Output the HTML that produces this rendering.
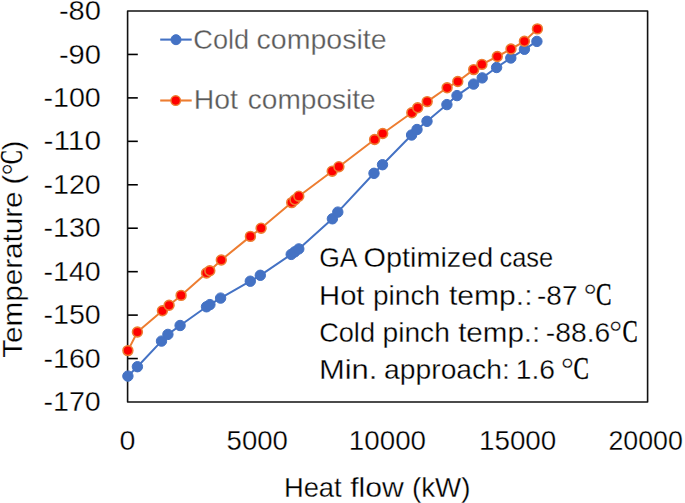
<!DOCTYPE html>
<html lang="en">
<head>
<meta charset="utf-8">
<title>Composite curves</title>
<style>
html,body{margin:0;padding:0;background:#fff;}
body{width:685px;height:503px;overflow:hidden;}
svg{display:block;}
text{font-family:"Liberation Sans",sans-serif;font-size:28px;fill:#000;stroke:#fff;stroke-width:0.3px;paint-order:fill stroke;}
.lg{fill:#595959;}
.dg{font-family:"Liberation Serif",serif;font-size:32px;}
.sf{font-family:"Liberation Serif",serif;font-size:30.5px;stroke:#000;stroke-width:0.3px;}
</style>
</head>
<body>
<svg width="685" height="503" viewBox="0 0 685 503">
<rect x="0" y="0" width="685" height="503" fill="#ffffff"/>
<text y="20.1"><tspan x="58.9" textLength="42.07" lengthAdjust="spacingAndGlyphs">-80</tspan></text>
<text y="63.54"><tspan x="58.9" textLength="42.07" lengthAdjust="spacingAndGlyphs">-90</tspan></text>
<text y="106.99"><tspan x="43.52" textLength="57.25" lengthAdjust="spacingAndGlyphs">-100</tspan></text>
<text y="150.43"><tspan x="43.47" textLength="57.53" lengthAdjust="spacingAndGlyphs">-110</tspan></text>
<text y="193.88"><tspan x="43.52" textLength="57.25" lengthAdjust="spacingAndGlyphs">-120</tspan></text>
<text y="237.32"><tspan x="43.52" textLength="57.25" lengthAdjust="spacingAndGlyphs">-130</tspan></text>
<text y="280.77"><tspan x="43.52" textLength="57.25" lengthAdjust="spacingAndGlyphs">-140</tspan></text>
<text y="324.21"><tspan x="43.52" textLength="57.25" lengthAdjust="spacingAndGlyphs">-150</tspan></text>
<text y="367.66"><tspan x="43.52" textLength="57.25" lengthAdjust="spacingAndGlyphs">-160</tspan></text>
<text y="411.1"><tspan x="43.52" textLength="57.25" lengthAdjust="spacingAndGlyphs">-170</tspan></text>
<line x1="127.6" y1="54.44" x2="137.79999999999998" y2="54.44" stroke="#000" stroke-width="1.6"/>
<line x1="127.6" y1="97.89" x2="137.79999999999998" y2="97.89" stroke="#000" stroke-width="1.6"/>
<line x1="127.6" y1="141.33" x2="137.79999999999998" y2="141.33" stroke="#000" stroke-width="1.6"/>
<line x1="127.6" y1="184.78" x2="137.79999999999998" y2="184.78" stroke="#000" stroke-width="1.6"/>
<line x1="127.6" y1="228.22" x2="137.79999999999998" y2="228.22" stroke="#000" stroke-width="1.6"/>
<line x1="127.6" y1="271.67" x2="137.79999999999998" y2="271.67" stroke="#000" stroke-width="1.6"/>
<line x1="127.6" y1="315.11" x2="137.79999999999998" y2="315.11" stroke="#000" stroke-width="1.6"/>
<line x1="127.6" y1="358.56" x2="137.79999999999998" y2="358.56" stroke="#000" stroke-width="1.6"/>
<text y="450.3"><tspan x="119.58" textLength="15.92" lengthAdjust="spacingAndGlyphs">0</tspan></text>
<text y="450.3"><tspan x="226.57" textLength="61.26" lengthAdjust="spacingAndGlyphs">5000</tspan></text>
<text y="450.3"><tspan x="348.87" textLength="77.14" lengthAdjust="spacingAndGlyphs">10000</tspan></text>
<text y="450.3"><tspan x="478.97" textLength="77.35" lengthAdjust="spacingAndGlyphs">15000</tspan></text>
<text y="450.3"><tspan x="608.47" textLength="74.41" lengthAdjust="spacingAndGlyphs">20000</tspan></text>
<rect x="127.6" y="11.0" width="520.0" height="391.0" fill="none" stroke="#111" stroke-width="1.6" stroke-linejoin="round"/>
<polyline points="127.9,376.1 137.4,366.7 161.5,341.1 167.9,334.4 180.1,325.5 206.5,306.8 209.9,304.6 220.6,298.1 250.3,281.2 260.3,275.3 291.2,254.4 294.8,251.8 298.8,248.9 332.4,218.8 337.8,212.1 374,173.3 382.5,164.7 411.6,135.0 417,129.5 427,121.3 446.9,104.6 457,95.6 473.6,84.1 482.2,77.9 496.6,67.5 510.8,58.0 524.4,49.3 536.9,41.4" fill="none" stroke="#4472C4" stroke-width="2.0" stroke-linejoin="round" stroke-linecap="round"/>
<circle cx="127.9" cy="376.1" r="5.2" fill="#4472C4" stroke="#4472C4" stroke-width="1.0"/>
<circle cx="137.4" cy="366.7" r="5.2" fill="#4472C4" stroke="#4472C4" stroke-width="1.0"/>
<circle cx="161.5" cy="341.1" r="5.2" fill="#4472C4" stroke="#4472C4" stroke-width="1.0"/>
<circle cx="167.9" cy="334.4" r="5.2" fill="#4472C4" stroke="#4472C4" stroke-width="1.0"/>
<circle cx="180.1" cy="325.5" r="5.2" fill="#4472C4" stroke="#4472C4" stroke-width="1.0"/>
<circle cx="206.5" cy="306.8" r="5.2" fill="#4472C4" stroke="#4472C4" stroke-width="1.0"/>
<circle cx="209.9" cy="304.6" r="5.2" fill="#4472C4" stroke="#4472C4" stroke-width="1.0"/>
<circle cx="220.6" cy="298.1" r="5.2" fill="#4472C4" stroke="#4472C4" stroke-width="1.0"/>
<circle cx="250.3" cy="281.2" r="5.2" fill="#4472C4" stroke="#4472C4" stroke-width="1.0"/>
<circle cx="260.3" cy="275.3" r="5.2" fill="#4472C4" stroke="#4472C4" stroke-width="1.0"/>
<circle cx="291.2" cy="254.4" r="5.2" fill="#4472C4" stroke="#4472C4" stroke-width="1.0"/>
<circle cx="294.8" cy="251.8" r="5.2" fill="#4472C4" stroke="#4472C4" stroke-width="1.0"/>
<circle cx="298.8" cy="248.9" r="5.2" fill="#4472C4" stroke="#4472C4" stroke-width="1.0"/>
<circle cx="332.4" cy="218.8" r="5.2" fill="#4472C4" stroke="#4472C4" stroke-width="1.0"/>
<circle cx="337.8" cy="212.1" r="5.2" fill="#4472C4" stroke="#4472C4" stroke-width="1.0"/>
<circle cx="374" cy="173.3" r="5.2" fill="#4472C4" stroke="#4472C4" stroke-width="1.0"/>
<circle cx="382.5" cy="164.7" r="5.2" fill="#4472C4" stroke="#4472C4" stroke-width="1.0"/>
<circle cx="411.6" cy="135.0" r="5.2" fill="#4472C4" stroke="#4472C4" stroke-width="1.0"/>
<circle cx="417" cy="129.5" r="5.2" fill="#4472C4" stroke="#4472C4" stroke-width="1.0"/>
<circle cx="427" cy="121.3" r="5.2" fill="#4472C4" stroke="#4472C4" stroke-width="1.0"/>
<circle cx="446.9" cy="104.6" r="5.2" fill="#4472C4" stroke="#4472C4" stroke-width="1.0"/>
<circle cx="457" cy="95.6" r="5.2" fill="#4472C4" stroke="#4472C4" stroke-width="1.0"/>
<circle cx="473.6" cy="84.1" r="5.2" fill="#4472C4" stroke="#4472C4" stroke-width="1.0"/>
<circle cx="482.2" cy="77.9" r="5.2" fill="#4472C4" stroke="#4472C4" stroke-width="1.0"/>
<circle cx="496.6" cy="67.5" r="5.2" fill="#4472C4" stroke="#4472C4" stroke-width="1.0"/>
<circle cx="510.8" cy="58.0" r="5.2" fill="#4472C4" stroke="#4472C4" stroke-width="1.0"/>
<circle cx="524.4" cy="49.3" r="5.2" fill="#4472C4" stroke="#4472C4" stroke-width="1.0"/>
<circle cx="536.9" cy="41.4" r="5.2" fill="#4472C4" stroke="#4472C4" stroke-width="1.0"/>
<polyline points="127.9,350.6 137.4,332.0 162.4,310.8 169.1,305.3 181.1,295.4 206.5,273.0 209.8,270.8 221.3,260.0 250.4,236.4 261.1,228.2 291.7,202.6 295.0,199.8 298.8,196.2 332.2,171.2 338.9,166.7 374.6,139.5 382.7,133.5 411.8,112.8 417.7,107.8 427.2,101.6 447.1,87.8 457.8,81.5 473.7,69.6 481.9,64.4 497.3,56.5 511.0,49.0 524.4,41.3 537.4,28.9" fill="none" stroke="#ED7D31" stroke-width="2.0" stroke-linejoin="round" stroke-linecap="round"/>
<circle cx="127.9" cy="350.6" r="4.9" fill="#FF0000" stroke="#ED7D31" stroke-width="1.6"/>
<circle cx="137.4" cy="332.0" r="4.9" fill="#FF0000" stroke="#ED7D31" stroke-width="1.6"/>
<circle cx="162.4" cy="310.8" r="4.9" fill="#FF0000" stroke="#ED7D31" stroke-width="1.6"/>
<circle cx="169.1" cy="305.3" r="4.9" fill="#FF0000" stroke="#ED7D31" stroke-width="1.6"/>
<circle cx="181.1" cy="295.4" r="4.9" fill="#FF0000" stroke="#ED7D31" stroke-width="1.6"/>
<circle cx="206.5" cy="273.0" r="4.9" fill="#FF0000" stroke="#ED7D31" stroke-width="1.6"/>
<circle cx="209.8" cy="270.8" r="4.9" fill="#FF0000" stroke="#ED7D31" stroke-width="1.6"/>
<circle cx="221.3" cy="260.0" r="4.9" fill="#FF0000" stroke="#ED7D31" stroke-width="1.6"/>
<circle cx="250.4" cy="236.4" r="4.9" fill="#FF0000" stroke="#ED7D31" stroke-width="1.6"/>
<circle cx="261.1" cy="228.2" r="4.9" fill="#FF0000" stroke="#ED7D31" stroke-width="1.6"/>
<circle cx="291.7" cy="202.6" r="4.9" fill="#FF0000" stroke="#ED7D31" stroke-width="1.6"/>
<circle cx="295.0" cy="199.8" r="4.9" fill="#FF0000" stroke="#ED7D31" stroke-width="1.6"/>
<circle cx="298.8" cy="196.2" r="4.9" fill="#FF0000" stroke="#ED7D31" stroke-width="1.6"/>
<circle cx="332.2" cy="171.2" r="4.9" fill="#FF0000" stroke="#ED7D31" stroke-width="1.6"/>
<circle cx="338.9" cy="166.7" r="4.9" fill="#FF0000" stroke="#ED7D31" stroke-width="1.6"/>
<circle cx="374.6" cy="139.5" r="4.9" fill="#FF0000" stroke="#ED7D31" stroke-width="1.6"/>
<circle cx="382.7" cy="133.5" r="4.9" fill="#FF0000" stroke="#ED7D31" stroke-width="1.6"/>
<circle cx="411.8" cy="112.8" r="4.9" fill="#FF0000" stroke="#ED7D31" stroke-width="1.6"/>
<circle cx="417.7" cy="107.8" r="4.9" fill="#FF0000" stroke="#ED7D31" stroke-width="1.6"/>
<circle cx="427.2" cy="101.6" r="4.9" fill="#FF0000" stroke="#ED7D31" stroke-width="1.6"/>
<circle cx="447.1" cy="87.8" r="4.9" fill="#FF0000" stroke="#ED7D31" stroke-width="1.6"/>
<circle cx="457.8" cy="81.5" r="4.9" fill="#FF0000" stroke="#ED7D31" stroke-width="1.6"/>
<circle cx="473.7" cy="69.6" r="4.9" fill="#FF0000" stroke="#ED7D31" stroke-width="1.6"/>
<circle cx="481.9" cy="64.4" r="4.9" fill="#FF0000" stroke="#ED7D31" stroke-width="1.6"/>
<circle cx="497.3" cy="56.5" r="4.9" fill="#FF0000" stroke="#ED7D31" stroke-width="1.6"/>
<circle cx="511.0" cy="49.0" r="4.9" fill="#FF0000" stroke="#ED7D31" stroke-width="1.6"/>
<circle cx="524.4" cy="41.3" r="4.9" fill="#FF0000" stroke="#ED7D31" stroke-width="1.6"/>
<circle cx="537.4" cy="28.9" r="4.9" fill="#FF0000" stroke="#ED7D31" stroke-width="1.6"/>
<line x1="160.2" y1="39.6" x2="191.7" y2="39.6" stroke="#4472C4" stroke-width="2.1"/>
<circle cx="176" cy="39.7" r="5" fill="#4472C4" stroke="#4472C4" stroke-width="1"/>
<text class="lg" y="48.5"><tspan x="193.35" textLength="55.84" lengthAdjust="spacingAndGlyphs">Cold</tspan> <tspan x="256.53" textLength="130.02" lengthAdjust="spacingAndGlyphs">composite</tspan></text>
<line x1="160.2" y1="100.5" x2="191.7" y2="100.5" stroke="#ED7D31" stroke-width="2.1"/>
<circle cx="175.7" cy="100.6" r="4.8" fill="#FF0000" stroke="#ED7D31" stroke-width="1.4"/>
<text class="lg" y="108.9"><tspan x="193.72" textLength="44.16" lengthAdjust="spacingAndGlyphs">Hot</tspan> <tspan x="247.75" textLength="127.98" lengthAdjust="spacingAndGlyphs">composite</tspan></text>
<text y="267.3"><tspan x="319.23" textLength="36.87" lengthAdjust="spacingAndGlyphs">GA</tspan> <tspan x="363.51" textLength="129.84" lengthAdjust="spacingAndGlyphs">Optimized</tspan> <tspan x="499.46" textLength="53.79" lengthAdjust="spacingAndGlyphs">case</tspan></text>
<text y="304.6"><tspan x="319.05" textLength="45.43" lengthAdjust="spacingAndGlyphs">Hot</tspan> <tspan x="373.05" textLength="66.94" lengthAdjust="spacingAndGlyphs">pinch</tspan> <tspan x="448.96" textLength="83.59" lengthAdjust="spacingAndGlyphs">temp.:</tspan> <tspan x="537.05" textLength="40.42" lengthAdjust="spacingAndGlyphs">-87</tspan> <tspan x="583.69" y="305.7" class="dg" textLength="12.86" lengthAdjust="spacingAndGlyphs">°</tspan><tspan x="596.04" y="304.6" class="sf" textLength="15.58" lengthAdjust="spacingAndGlyphs">C</tspan></text>
<text y="341.8"><tspan x="319.15" textLength="55.84" lengthAdjust="spacingAndGlyphs">Cold</tspan> <tspan x="382.44" textLength="67.46" lengthAdjust="spacingAndGlyphs">pinch</tspan> <tspan x="458.17" textLength="82.13" lengthAdjust="spacingAndGlyphs">temp.:</tspan> <tspan x="545.74" textLength="64.51" lengthAdjust="spacingAndGlyphs">-88.6</tspan><tspan x="609.29" y="342.9" class="dg" textLength="12.86" lengthAdjust="spacingAndGlyphs">°</tspan><tspan x="622.46" y="341.8" class="sf" textLength="15.23" lengthAdjust="spacingAndGlyphs">C</tspan></text>
<text y="379.0"><tspan x="318.91" textLength="58.53" lengthAdjust="spacingAndGlyphs">Min.</tspan> <tspan x="384.14" textLength="125.63" lengthAdjust="spacingAndGlyphs">approach:</tspan> <tspan x="515.73" textLength="39.27" lengthAdjust="spacingAndGlyphs">1.6</tspan> <tspan x="560.99" y="380.1" class="dg" textLength="12.86" lengthAdjust="spacingAndGlyphs">°</tspan><tspan x="573.45" y="379.0" class="sf" textLength="15.46" lengthAdjust="spacingAndGlyphs">C</tspan></text>
<text y="496.7"><tspan x="283.9" textLength="57.75" lengthAdjust="spacingAndGlyphs">Heat</tspan> <tspan x="350.16" textLength="53.69" lengthAdjust="spacingAndGlyphs">flow</tspan> <tspan x="411.97" textLength="58.55" lengthAdjust="spacingAndGlyphs">(kW)</tspan></text>
<text transform="translate(22.4,357.2) rotate(-90)" y="0"><tspan x="-0.59" textLength="166.35" lengthAdjust="spacingAndGlyphs">Temperature</tspan> <tspan x="172.67" textLength="9.78" lengthAdjust="spacingAndGlyphs">(</tspan><tspan x="181.92" y="1.1" class="dg" textLength="11.81" lengthAdjust="spacingAndGlyphs">°</tspan><tspan x="193.26" y="0" class="sf" textLength="13.72" lengthAdjust="spacingAndGlyphs">C</tspan><tspan x="206.84" textLength="9.65" lengthAdjust="spacingAndGlyphs">)</tspan></text>
</svg>
</body>
</html>
